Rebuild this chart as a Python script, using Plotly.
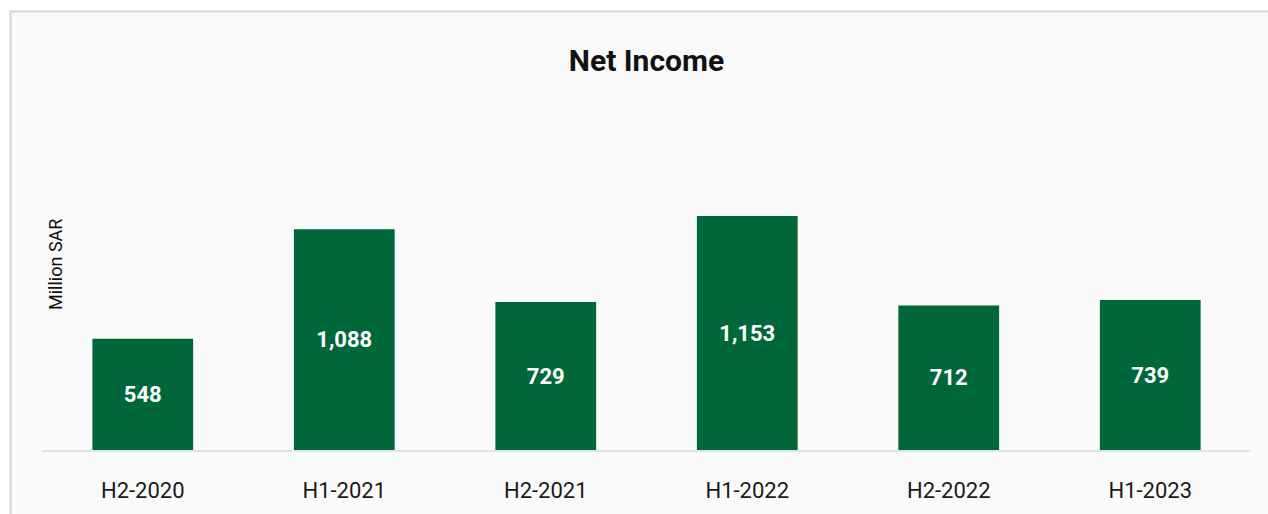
import plotly.graph_objects as go

categories = ["H2-2020", "H1-2021", "H2-2021", "H1-2022", "H2-2022", "H1-2023"]
net_income = [548, 1088, 729, 1153, 712, 739]
labels = [f"{v:,}" for v in net_income]

W, H = 1268, 514
ml, mr, mt, mb = 42, 17, 100, 64
pw, ph = W - ml - mr, H - mt - mb

def px_x(p):
    return (p - ml) / pw

def px_y(p):
    return (H - mb - p) / ph

fig = go.Figure(go.Bar(
    x=categories, y=net_income, text=labels,
    textposition="inside", insidetextanchor="middle",
    textfont=dict(family="Roboto", size=22, color="white", weight="bold"),
    marker=dict(color="#00673A", line=dict(width=0)),
    hoverinfo="skip",
))

fig.update_layout(
    width=W, height=H,
    margin=dict(l=ml, r=mr, t=mt, b=mb),
    paper_bgcolor="white",
    plot_bgcolor="rgba(0,0,0,0)",
    bargap=0.5,
    showlegend=False,
    font=dict(family="Roboto", color="#111"),
    title=dict(text="<b>Net Income</b>", x=0.5, xref="paper", xanchor="center",
               y=1 - 60 / H, yanchor="middle",
               font=dict(family="Roboto", size=30, color="#111")),
    xaxis=dict(showline=True, linecolor="#dfe4ea", linewidth=2, showgrid=False,
               ticks="", tickfont=dict(family="Roboto", size=22, color="#1a1a1a"),
               ticklabelstandoff=20, fixedrange=True),
    yaxis=dict(range=[0, 1725], visible=False, fixedrange=True),
    shapes=[dict(type="rect", xref="paper", yref="paper",
                 x0=px_x(10.5), x1=1.2, y0=-0.5, y1=px_y(11.5),
                 fillcolor="#fafafa", line=dict(color="#d4d4d4", width=2),
                 layer="below")],
    annotations=[dict(text="Million SAR", textangle=-90, xref="paper", yref="paper",
                      x=px_x(55), y=px_y(265), xanchor="center", yanchor="middle",
                      showarrow=False, font=dict(family="Roboto", size=18, color="#111"))],
)

fig.write_html(
    "out.html",
    config={"displayModeBar": False, "staticPlot": True},
    post_script="document.body.style.margin='0';document.body.style.overflow='hidden';",
)
